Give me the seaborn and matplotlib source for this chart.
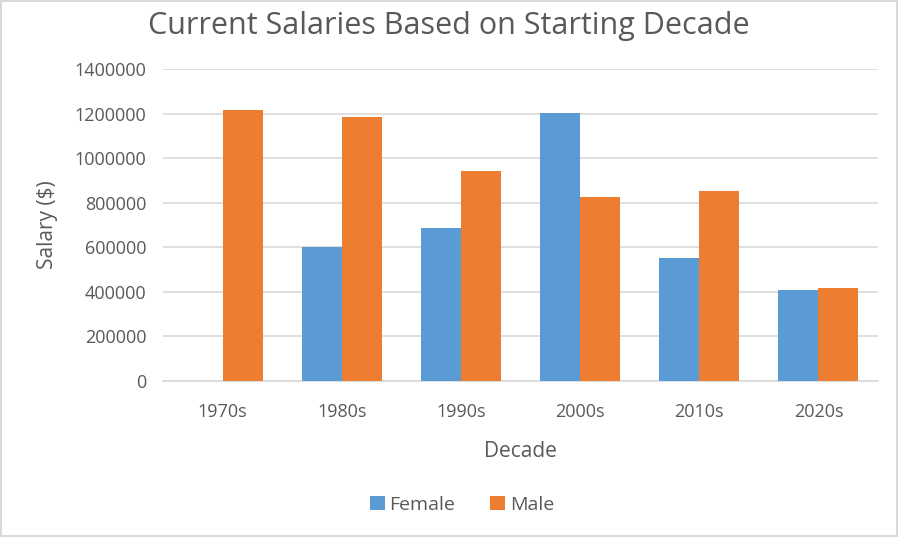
import matplotlib
matplotlib.use("Agg")
import matplotlib.pyplot as plt
import seaborn as sns
import pandas as pd

decades = ["1970s", "1980s", "1990s", "2000s", "2010s", "2020s"]
female = [0, 602000, 686000, 1203000, 551000, 408000]
male = [1218000, 1185000, 942000, 825000, 852000, 417000]
yticks = [0, 200000, 400000, 600000, 800000, 1000000, 1200000, 1400000]

df = pd.DataFrame({
    "Decade": decades * 2,
    "Salary": female + male,
    "Gender": ["Female"] * len(decades) + ["Male"] * len(decades),
})

sns.set_theme(style="white")
plt.rcParams["font.family"] = ["Open Sans", "DejaVu Sans"]

fig = plt.figure(figsize=(8.98, 5.37), dpi=100)
fig.patch.set_edgecolor("#d9d9d9")
fig.patch.set_linewidth(1.5)
ax = fig.add_axes([163/898, 1-381/537, (878-163)/898, (381-69)/537])

sns.barplot(data=df, x="Decade", y="Salary", hue="Gender", order=decades,
            hue_order=["Female", "Male"],
            palette={"Female": "#5b9bd5", "Male": "#ed7d31"},
            width=0.67, saturation=1, linewidth=0, ax=ax, legend=True, zorder=3)

ax.set_ylim(0, 1400000)
ax.set_yticks(yticks)
ax.set_yticklabels([str(v) for v in yticks])
ax.yaxis.grid(True, color="#d9d9d9", linewidth=1.2, zorder=0)
ax.set_axisbelow(True)
for s in ["top", "right", "left"]:
    ax.spines[s].set_visible(False)
ax.spines["bottom"].set_color("#d9d9d9")
ax.spines["bottom"].set_linewidth(1.2)
ax.tick_params(axis="both", length=0, colors="#595959", labelsize=13)
ax.tick_params(axis="y", pad=12)
ax.tick_params(axis="x", pad=16)

ax.set_xlabel("Decade", fontsize=15, color="#595959", labelpad=14)
ax.set_ylabel("Salary ($)", fontsize=15, color="#595959", labelpad=12)

fig.text(0.5, 1-26/537, "Current Salaries Based on Starting Decade",
         ha="center", va="center", fontsize=22, color="#595959")

leg = ax.legend(loc="center", bbox_to_anchor=(462/898, 1-505/537),
                bbox_transform=fig.transFigure, ncol=2, frameon=False,
                fontsize=14, handlelength=0.75, handleheight=0.75,
                handletextpad=0.25, columnspacing=1.8)
for t in leg.get_texts():
    t.set_color("#595959")

fig.savefig("out.png", dpi=100)
